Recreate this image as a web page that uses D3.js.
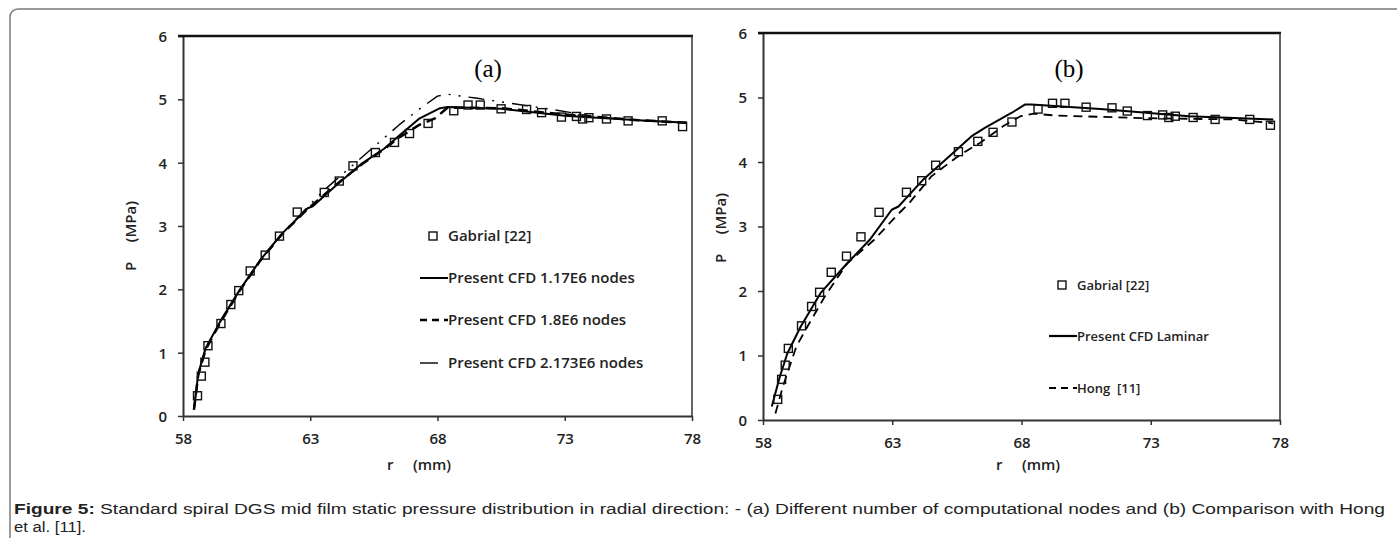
<!DOCTYPE html>
<html>
<head>
<meta charset="utf-8">
<script src="https://cdn.jsdelivr.net/npm/d3@7"></script>
<style>
	body { margin:0; background:#fff; }
	svg { display:block; }
</style>
</head>
<body>
<div id="chart-area"></div>
<script>
const gabrialR = [58.57,58.72,58.86,58.98,59.49,59.88,60.19,60.64,61.23,61.79,62.49,63.55,64.14,64.68,65.56,66.31,66.9,67.63,68.64,69.2,69.68,70.5,71.5,72.09,72.87,73.46,73.7,73.95,74.64,75.49,76.83,77.63]
const gabrialP = [0.32,0.63,0.85,1.11,1.46,1.76,1.98,2.29,2.54,2.84,3.22,3.53,3.71,3.95,4.16,4.32,4.46,4.62,4.82,4.91,4.91,4.85,4.84,4.79,4.72,4.73,4.69,4.71,4.69,4.66,4.66,4.57]

// (a) mesh study
const cfd117R = [58.43,58.6,58.89,59.46,60.18,61.03,61.89,62.9,63.1,64.1,65.04,65.9,66.5,67.3,68.1,68.4,70.5,73,75.9,77.8]
const cfd117P = [0.1,0.67,1.07,1.49,1.96,2.46,2.88,3.28,3.31,3.67,3.99,4.22,4.43,4.7,4.86,4.88,4.85,4.74,4.67,4.63]
const cfd18R = [58.43,58.6,58.89,59.46,60.18,61.03,61.89,62.9,64.1,65.04,65.9,66.5,67.3,67.9,68.4,70.5,73,75.9,77.8]
const cfd18P = [0.1,0.65,1.05,1.47,1.95,2.45,2.87,3.27,3.68,3.98,4.21,4.4,4.6,4.7,4.87,4.86,4.76,4.67,4.63]
const cfd2173R = [58.43,58.6,58.89,59.46,60.18,61.03,61.89,62.9,63.5,64.5,65.5,66.5,67.3,68.0,68.4,69.5,71,72.5,74,75.5,77.8]
const cfd2173P = [0.1,0.67,1.07,1.49,1.96,2.46,2.88,3.3,3.55,3.9,4.25,4.6,4.85,5.05,5.08,5.02,4.93,4.84,4.74,4.67,4.63]

// (b) comparison with Hong
const laminarR = [58.34,58.65,58.94,59.46,60.23,61.26,62.12,62.98,63.24,64.18,65.21,66.07,66.58,67.61,68.13,68.39,71.05,74.48,77.74]
const laminarP = [0.21,0.67,1.03,1.45,1.97,2.43,2.79,3.26,3.31,3.72,4.09,4.4,4.53,4.76,4.89,4.89,4.82,4.71,4.66]
const hongR = [58.48,58.77,59.29,59.72,60.4,61.26,62.29,63.15,63.67,64.52,65.55,66.4,67.27,67.96,68.47,69.33,72.76,76.2,77.74]
const hongP = [0.1,0.52,1.14,1.45,1.92,2.43,2.79,3.16,3.37,3.78,4.09,4.3,4.55,4.71,4.75,4.72,4.68,4.66,4.6]

const xTicks = [58,63,68,73,78]
const yTicks = [0,1,2,3,4,5,6]

const zip = (xs,ys) => xs.map((x,i) => [x,ys[i]])

const svg = d3.select('#chart-area')
.append('svg')
.attr('width',1397)
.attr('height',538)

// outer frame of the figure
svg.append('rect')
.attr('x',10)
.attr('y',9)
.attr('width',1420)
.attr('height',560)
.attr('rx',8)
.attr('fill','none')
.attr('stroke','#7a7a7a')
.attr('stroke-width',1.5)

const tickFont = "'Open Sans', 'DejaVu Sans', sans-serif"

function drawPanel(p) {
	const x = d3.scaleLinear().domain([58,78]).range([p.left,p.right])
	const y = d3.scaleLinear().domain([0,6]).range([p.bottom,p.top])
	const g = svg.append('g')

	const xAxis = g.append('g')
	.attr('transform',`translate(0,${p.bottom})`)
	.call(d3.axisBottom(x).tickValues(xTicks).tickFormat(d3.format('d')).tickSize(5).tickSizeOuter(0).tickPadding(12))
	const yAxis = g.append('g')
	.attr('transform',`translate(${p.left},0)`)
	.call(d3.axisLeft(y).tickValues(yTicks).tickFormat(d3.format('d')).tickSize(5).tickSizeOuter(0).tickPadding(11))

	;[xAxis,yAxis].forEach(a => {
		a.select('.domain').attr('stroke','#333').attr('stroke-width',2)
		a.selectAll('.tick line').attr('stroke','#333').attr('stroke-width',1.5)
		a.selectAll('.tick text')
		.attr('fill','#222')
		.style('font-family',tickFont)
		.style('font-size','15px')
		.style('font-weight','600')
	})
	yAxis.selectAll('.tick text').attr('dy','0.36em')

	// top and right frame
	g.append('line')
	.attr('x1',p.left-5).attr('x2',p.right+1)
	.attr('y1',y(6)).attr('y2',y(6))
	.attr('stroke','#111').attr('stroke-width',2.5)
	g.append('line')
	.attr('x1',x(78)).attr('x2',x(78))
	.attr('y1',y(6)).attr('y2',y(0))
	.attr('stroke','#333').attr('stroke-width',1.5)

	const line = d3.line().x(d => x(d[0])).y(d => y(d[1]))

	p.series.forEach(s => {
		g.append('path')
		.datum(zip(s.r,s.p))
		.attr('d',line)
		.attr('fill','none')
		.attr('stroke','#000')
		.attr('stroke-width',s.width)
		.attr('stroke-dasharray',s.dash)
		.attr('stroke-linejoin','round')
	})

	g.selectAll('rect.pt')
	.data(zip(gabrialR,gabrialP))
	.enter().append('rect')
	.attr('class','pt')
	.attr('x',d => x(d[0])-p.mk/2)
	.attr('y',d => y(d[1])-p.mk/2)
	.attr('width',p.mk)
	.attr('height',p.mk)
	.attr('fill','none')
	.attr('stroke','#111')
	.attr('stroke-width',1.4)

	g.append('text')
	.attr('x',p.tagX)
	.attr('y',77)
	.attr('text-anchor','middle')
	.style('font-family',"'Liberation Serif', 'DejaVu Serif', serif")
	.style('font-size','25px')
	.text(p.tag)

	g.append('text')
	.attr('transform',`translate(${p.yLabX},${p.yLabY}) rotate(-90)`)
	.attr('text-anchor','middle')
	.attr('fill','#222')
	.style('font-family',tickFont)
	.style('font-size','15px')
	.style('font-weight','600')
	.style('white-space','pre')
	.text('P     (MPa)')

	g.append('text')
	.attr('x',p.xLabX)
	.attr('y',470)
	.attr('text-anchor','middle')
	.attr('fill','#222')
	.style('font-family',tickFont)
	.style('font-size','15px')
	.style('font-weight','600')
	.style('white-space','pre')
	.text('r     (mm)')

	// legend
	p.legend.forEach(l => {
		if (l.marker) {
			g.append('rect')
			.attr('x',l.sx-4).attr('y',l.y-4)
			.attr('width',8).attr('height',8)
			.attr('fill','none').attr('stroke','#111').attr('stroke-width',1.4)
		} else {
			g.append('line')
			.attr('x1',l.sx).attr('x2',l.sx2)
			.attr('y1',l.y).attr('y2',l.y)
			.attr('stroke','#000')
			.attr('stroke-width',l.width)
			.attr('stroke-dasharray',l.dash)
		}
		g.append('text')
		.attr('x',l.tx)
		.attr('y',l.y)
		.attr('dy','0.36em')
		.attr('fill','#222')
		.style('font-family',tickFont)
		.style('font-size',p.legendSize)
		.style('font-weight','600')
		.style('white-space','pre')
		.text(l.label)
	})
}

drawPanel({
	left:183, right:692, top:36, bottom:416, mk:8, legendSize:'15px',
	tag:'(a)', tagX:488, yLabX:136, yLabY:236, xLabX:419,
	series:[
		{r:cfd2173R, p:cfd2173P, width:1.4, dash:'16,8,2,8,2,8'},
		{r:cfd18R, p:cfd18P, width:2.5, dash:'10,6'},
		{r:cfd117R, p:cfd117P, width:2, dash:null}
	],
	legend:[
		{marker:true, sx:433, y:236, tx:448, label:'Gabrial [22]'},
		{sx:420, sx2:448, y:278, tx:448, width:2, dash:null, label:'Present CFD 1.17E6 nodes'},
		{sx:420, sx2:448, y:320, tx:448, width:2.5, dash:'7,5', label:'Present CFD 1.8E6 nodes'},
		{sx:420, sx2:438, y:363, tx:448, width:1.4, dash:null, label:'Present CFD 2.173E6 nodes'}
	]
})

drawPanel({
	left:763, right:1280, top:33, bottom:420, mk:8, legendSize:'13px',
	tag:'(b)', tagX:1069, yLabX:726, yLabY:228, xLabX:1028,
	series:[
		{r:hongR, p:hongP, width:1.8, dash:'9,6'},
		{r:laminarR, p:laminarP, width:2, dash:null}
	],
	legend:[
		{marker:true, sx:1062, y:285, tx:1077, label:'Gabrial [22]'},
		{sx:1049, sx2:1077, y:336, tx:1077, width:2.2, dash:null, label:'Present CFD Laminar'},
		{sx:1049, sx2:1077, y:388, tx:1077, width:2, dash:'7,5', label:'Hong  [11]'}
	]
})

// caption (the source figure is stretched sideways, so the text is fitted to its width)
const capFont = "'Liberation Sans', Arial, sans-serif"
const cap = svg.append('text')
.attr('x',14)
.attr('y',514)
.attr('textLength',1371)
.attr('lengthAdjust','spacingAndGlyphs')
.style('font-family',capFont)
.style('font-size','14px')
.attr('fill','#222')
cap.append('tspan').style('font-weight','bold').text('Figure 5:')
cap.append('tspan').text(' Standard spiral DGS mid film static pressure distribution in radial direction: - (a) Different number of computational nodes and (b) Comparison with Hong')
svg.append('text')
.attr('x',14)
.attr('y',532)
.attr('textLength',72)
.attr('lengthAdjust','spacingAndGlyphs')
.style('font-family',capFont)
.style('font-size','14px')
.attr('fill','#222')
.text('et al. [11].')
</script>
</body>
</html>
